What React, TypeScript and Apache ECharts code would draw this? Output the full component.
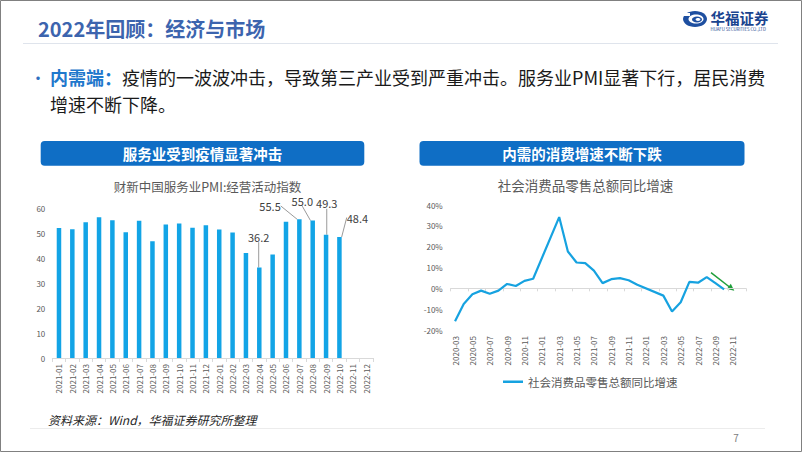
import React, { useEffect, useRef } from "react";
import * as echarts from "echarts";

const pmiMonths = [
  "2021-01", "2021-02", "2021-03", "2021-04", "2021-05", "2021-06",
  "2021-07", "2021-08", "2021-09", "2021-10", "2021-11", "2021-12",
  "2022-01", "2022-02", "2022-03", "2022-04", "2022-05", "2022-06",
  "2022-07", "2022-08", "2022-09", "2022-10", "2022-11", "2022-12",
];
const pmiValues: (number | null)[] = [
  52.0, 51.5, 54.3, 56.3, 55.1, 50.3, 54.9, 46.7, 53.4, 53.8, 52.1, 53.1,
  51.4, 50.2, 42.0, 36.2, 41.4, 54.5, 55.5, 55.0, 49.3, 48.4, null, null,
];
const pmiLabeledMonths = ["2022-04", "2022-07", "2022-08", "2022-09", "2022-10"];
const pmiTicks = [0, 10, 20, 30, 40, 50, 60];

const retailMonths = [
  "2020-03", "2020-04", "2020-05", "2020-06", "2020-07", "2020-08", "2020-09",
  "2020-10", "2020-11", "2020-12", "2021-01", "2021-02", "2021-03", "2021-04",
  "2021-05", "2021-06", "2021-07", "2021-08", "2021-09", "2021-10", "2021-11",
  "2021-12", "2022-01", "2022-02", "2022-03", "2022-04", "2022-05", "2022-06",
  "2022-07", "2022-08", "2022-09", "2022-10", "2022-11", "2022-12",
];
const retailValues: (number | null)[] = [
  -15.8, -7.5, -2.8, -1.1, -2.6, -1.1, 2.1, 1.1, 3.6, 4.6, null, null, 34.2,
  17.7, 12.4, 12.1, 8.5, 2.5, 4.4, 4.9, 3.9, 1.7, null, null, -3.5, -11.1,
  -6.7, 3.1, 2.7, 5.4, 2.5, -0.5, null, null,
];
const retailTicks = [-20, -10, 0, 10, 20, 30, 40];

const seriesName = "社会消费品零售总额同比增速";
const FONT = "'Noto Sans CJK SC', 'Noto Sans', sans-serif";

// label offsets (relative to bar-top centre) for the annotated bars
const labelOffsets: Record<string, [number, number]> = {
  "2022-04": [-0.6, -30.8],
  "2022-07": [-29.3, -13.3],
  "2022-08": [-10.4, -19.8],
  "2022-09": [0.7, -31.5],
  "2022-10": [18, -19.5],
};

export default function App() {
  const ref = useRef<HTMLDivElement>(null);
  useEffect(() => {
    if (!ref.current) return;
    const chart = echarts.init(ref.current, null, { renderer: "svg" });
    const barData = pmiValues.map((v, i) =>
      pmiLabeledMonths.includes(pmiMonths[i])
        ? { value: v, label: { show: true } }
        : { value: v }
    );
    const option: any = {
      animation: false,
      backgroundColor: "#ffffff",
      textStyle: { fontFamily: FONT },
      grid: [
        { left: 52.3, right: 429.2, top: 208, bottom: 94 },
        { left: 450.7, right: 56.2, top: 205, bottom: 122 },
      ],
      legend: {
        data: [seriesName],
        left: 498,
        top: 371,
        icon: "rect",
        itemWidth: 20,
        itemHeight: 2.5,
        textStyle: { fontSize: 11.5, color: "#595959", fontFamily: FONT },
      },
      xAxis: [
        {
          gridIndex: 0,
          type: "category",
          data: pmiMonths,
          axisLine: { lineStyle: { color: "#d9d9d9" } },
          axisTick: { show: true, interval: 0, length: 4, lineStyle: { color: "#d9d9d9" } },
          axisLabel: { rotate: 90, interval: 0, fontSize: 8, color: "#595959", margin: 6 },
        },
        {
          gridIndex: 1,
          type: "category",
          data: retailMonths,
          position: "top",
          axisLine: { onZero: true, lineStyle: { color: "#d9d9d9" } },
          axisTick: { show: true, interval: 1, inside: true, length: 3, lineStyle: { color: "#d9d9d9" } },
          axisLabel: { show: false },
        },
        {
          gridIndex: 1,
          type: "category",
          data: retailMonths,
          position: "bottom",
          axisLine: { show: false, onZero: false },
          axisTick: { show: false },
          axisLabel: { rotate: 90, interval: 1, fontSize: 8, color: "#595959", margin: 6 },
        },
      ],
      yAxis: [
        {
          gridIndex: 0,
          type: "value",
          min: pmiTicks[0],
          max: pmiTicks[pmiTicks.length - 1],
          interval: 10,
          axisLine: { show: false },
          axisTick: { show: false },
          splitLine: { show: false },
          axisLabel: { fontSize: 8, color: "#595959", margin: 7 },
        },
        {
          gridIndex: 1,
          type: "value",
          min: retailTicks[0],
          max: retailTicks[retailTicks.length - 1],
          interval: 10,
          axisLine: { show: false },
          axisTick: { show: false },
          splitLine: { show: false },
          axisLabel: { fontSize: 8, color: "#595959", margin: 8, formatter: "{value}%" },
        },
      ],
      series: [
        {
          type: "bar",
          name: "财新中国服务业PMI:经营活动指数",
          xAxisIndex: 0,
          yAxisIndex: 0,
          data: barData,
          barWidth: 4.5,
          itemStyle: { color: "#12a4e6" },
          label: {
            show: false,
            position: "top",
            fontSize: 11,
            color: "#404040",
            formatter: (p: any) => Number(p.value).toFixed(1),
          },
          labelLine: { show: true, lineStyle: { color: "#9a9a9a", width: 1 } },
          labelLayout: (params: any) => {
            const off = labelOffsets[pmiMonths[params.dataIndex]];
            if (!off) return {};
            const r = params.rect;
            return {
              x: r.x + r.width / 2 + off[0],
              y: r.y + off[1],
              align: "center",
              verticalAlign: "middle",
            };
          },
        },
        {
          type: "line",
          name: seriesName,
          xAxisIndex: 2,
          yAxisIndex: 1,
          data: retailValues,
          connectNulls: true,
          showSymbol: false,
          symbol: "none",
          lineStyle: { width: 2.2, color: "#16a2e0" },
          itemStyle: { color: "#16a2e0" },
        },
      ],
      graphic: [
        { type: "rect", shape: { x: 0.5, y: 0.5, width: 801, height: 451 }, style: { fill: "none", stroke: "#808080", lineWidth: 1 }, silent: true },
        { type: "text", x: 38, y: 28, style: { text: "2022年回顾：经济与市场", font: `bold 20px ${FONT}`, fill: "#3c64ae", verticalAlign: "middle" } },
        { type: "line", shape: { x1: 23, y1: 43.5, x2: 778, y2: 43.5 }, style: { stroke: "#dfe4ec", lineWidth: 1 } },
        // logo
        { type: "ellipse", shape: { cx: 695, cy: 19, rx: 12, ry: 8 }, style: { fill: "#1e4fa0" } },
        { type: "ellipse", shape: { cx: 696, cy: 19, rx: 7.5, ry: 4.6 }, style: { fill: "#ffffff" } },
        { type: "ellipse", shape: { cx: 697, cy: 19.5, rx: 5, ry: 3 }, style: { fill: "#1e4fa0" } },
        { type: "ellipse", shape: { cx: 698, cy: 19.5, rx: 2.4, ry: 1.4 }, style: { fill: "#ffffff" } },
        { type: "rect", shape: { x: 683, y: 13, width: 7, height: 3 }, style: { fill: "#ffffff" } },
        { type: "text", x: 710.5, y: 17, style: { text: "华福证券", font: `bold 14.5px ${FONT}`, fill: "#1a448f", verticalAlign: "middle" } },
        { type: "text", x: 710.5, y: 29, style: { text: "HUAFU SECURITIES CO.,LTD", font: `4.3px ${FONT}`, fill: "#1a448f", verticalAlign: "middle" } },
        // bullet text
        { type: "text", x: 30, y: 77, style: { text: "•", font: `16px ${FONT}`, fill: "#2f6fbf", verticalAlign: "middle" } },
        {
          type: "text",
          x: 50,
          y: 77,
          style: {
            text: "{b|内需端：}{n|疫情的一波波冲击，导致第三产业受到严重冲击。服务业PMI显著下行，居民消费}",
            verticalAlign: "middle",
            rich: {
              b: { fontSize: 18, fontWeight: "bold", fill: "#1f78cc", fontFamily: FONT },
              n: { fontSize: 18, fill: "#1a1a1a", fontFamily: FONT },
            },
          },
        },
        { type: "text", x: 50, y: 104, style: { text: "增速不断下降。", font: `18px ${FONT}`, fill: "#1a1a1a", verticalAlign: "middle" } },
        // header boxes
        { type: "rect", shape: { x: 40.7, y: 141, width: 323.6, height: 24.7, r: 4 }, style: { fill: "#0f6ec5" } },
        { type: "text", x: 202.5, y: 153.3, style: { text: "服务业受到疫情显著冲击", font: `bold 14.5px ${FONT}`, fill: "#ffffff", align: "center", verticalAlign: "middle" } },
        { type: "rect", shape: { x: 419.5, y: 141, width: 325, height: 24.7, r: 4 }, style: { fill: "#0f6ec5" } },
        { type: "text", x: 582, y: 153.3, style: { text: "内需的消费增速不断下跌", font: `bold 14.5px ${FONT}`, fill: "#ffffff", align: "center", verticalAlign: "middle" } },
        // chart titles
        { type: "text", x: 207.5, y: 186.5, style: { text: "财新中国服务业PMI:经营活动指数", font: `12.5px ${FONT}`, fill: "#595959", align: "center", verticalAlign: "middle" } },
        { type: "text", x: 585.5, y: 185, style: { text: "社会消费品零售总额同比增速", font: `13.5px ${FONT}`, fill: "#595959", align: "center", verticalAlign: "middle" } },
        // green arrow
        { type: "line", shape: { x1: 711, y1: 272.7, x2: 729.5, y2: 287 }, style: { stroke: "#1f9e3a", lineWidth: 1.5 } },
        { type: "polygon", shape: { points: [[734.3, 290.7], [726.8, 288.9], [730.8, 283.8]] }, style: { fill: "#1f9e3a" } },
        // footer
        { type: "text", x: 48, y: 419, style: { text: "资料来源：Wind，华福证券研究所整理", font: `italic 12px ${FONT}`, fill: "#262626", verticalAlign: "middle" } },
        { type: "line", shape: { x1: 30, y1: 428.5, x2: 765, y2: 428.5 }, style: { stroke: "#ececec", lineWidth: 1 } },
        { type: "text", x: 736, y: 437, style: { text: "7", font: `10px ${FONT}`, fill: "#808080", align: "center", verticalAlign: "middle" } },
      ],
    };
    chart.setOption(option);
    return () => chart.dispose();
  }, []);
  return (
    <div
      ref={ref}
      style={{ position: "absolute", left: 0, top: 0, width: 802, height: 452, background: "#fff" }}
    />
  );
}
